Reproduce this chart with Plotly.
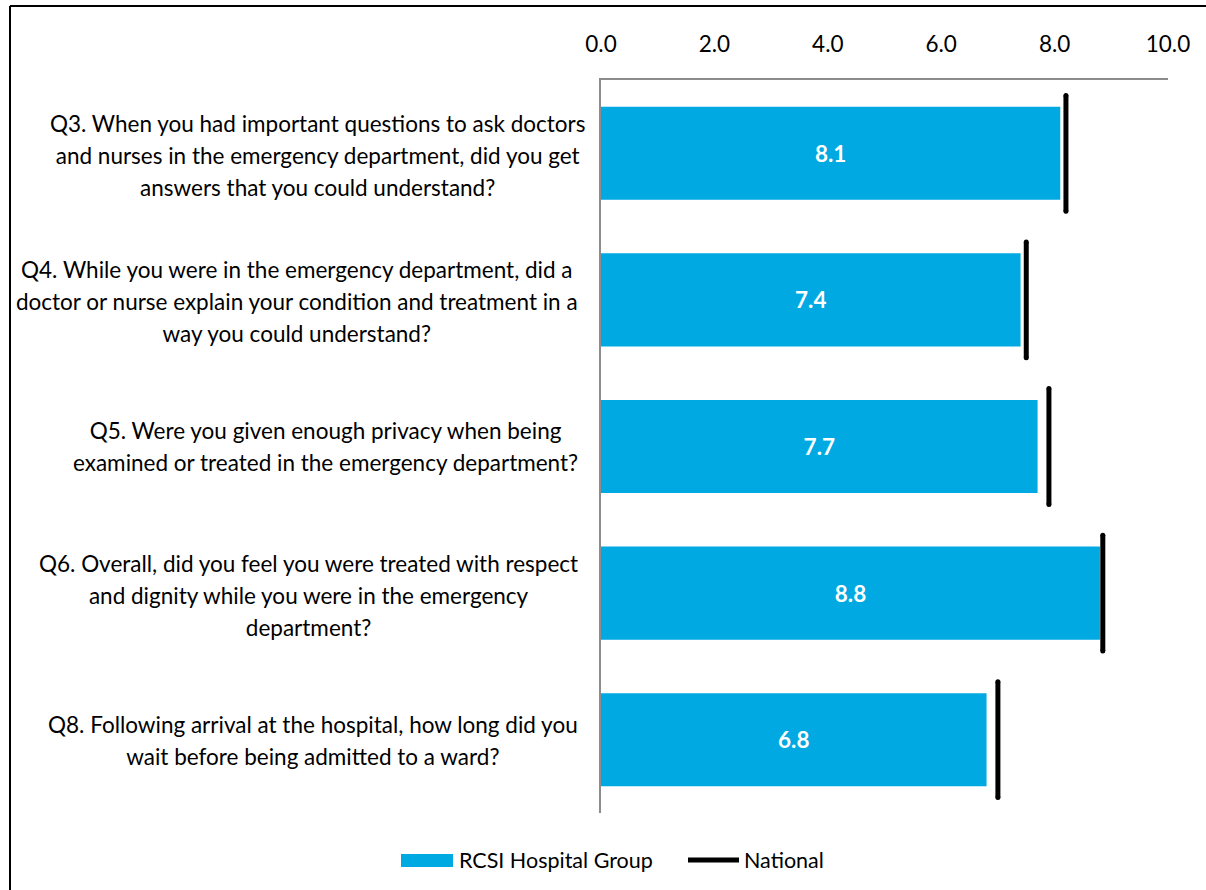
import plotly.graph_objects as go

# Survey questions (top to bottom)
questions = [
    ["Q3. When you had important questions to ask doctors",
     "and nurses in the emergency department, did you get",
     "answers that you could understand?"],
    ["Q4. While you were in the emergency department, did a",
     "doctor or nurse explain your condition and treatment in a",
     "way you could understand?"],
    ["Q5. Were you given enough privacy when being",
     "examined or treated in the emergency department?"],
    ["Q6. Overall, did you feel you were treated with respect",
     "and dignity while you were in the emergency",
     "department?"],
    ["Q8. Following arrival at the hospital, how long did you",
     "wait before being admitted to a ward?"],
]
group_scores = [8.1, 7.4, 7.7, 8.8, 6.8]        # RCSI Hospital Group
national_scores = [8.2, 7.5, 7.9, 8.85, 7.0]    # National
x_ticks = [0, 2, 4, 6, 8, 10]
x_tick_labels = ["0.0", "2.0", "4.0", "6.0", "8.0", "10.0"]

W, H = 1206, 890
L, R, T, B = 601, 38, 80, 77
PW, PH = W - L - R, H - T - B

BLUE = "#00A9E2"
FONT = "Lato"
LABEL_SIZE = 22.5      # glyph size of the question text
LABEL_LEADING = 24.6   # sets line pitch (1.3 em) of the question text
label_gap = [-14, -21, -21, -21, -21]   # px between label block and axis
label_lift = [-2, -2, 0, -2, -1]


def px_x(p):
    return (p - L) / PW


def px_y(p):
    return (H - B - p) / PH


pos = list(range(len(questions)))

fig = go.Figure()

fig.add_trace(go.Bar(
    x=group_scores, y=pos, orientation="h", width=0.635,
    marker=dict(color=BLUE, line=dict(width=0)),
    texttemplate="%{x:.1f}", textposition="inside", insidetextanchor="middle",
    textfont=dict(family=FONT, size=22.5, color="white", weight="bold"),
    constraintext="none", name="RCSI Hospital Group", showlegend=False,
    hoverinfo="skip",
))

# National benchmark: a vertical stroke across each bar slot
half = 0.395
seg_x, seg_y = [], []
for v, p in zip(national_scores, pos):
    seg_x += [v, v, None]
    seg_y += [p - half, p + half, None]
fig.add_trace(go.Scatter(
    x=seg_x, y=seg_y, mode="lines+markers",
    line=dict(color="black", width=5),
    marker=dict(color="black", size=5, symbol="circle"),
    name="National", showlegend=False, hoverinfo="skip",
))

# Category labels, centred lines, right-aligned block
for q, p, gx, gy in zip(questions, pos, label_gap, label_lift):
    text = "<br>".join(
        f'<span style="font-size:{LABEL_SIZE}px">{line}</span>' for line in q
    )
    fig.add_annotation(
        x=0, xref="paper", y=p, yref="y", xanchor="right", yanchor="middle",
        xshift=gx, yshift=gy, align="center", showarrow=False, text=text,
        font=dict(family=FONT, size=LABEL_LEADING, color="black"),
    )

# Legend
fig.add_shape(type="rect", xref="paper", yref="paper",
              x0=px_x(401), x1=px_x(453), y0=px_y(867), y1=px_y(854),
              fillcolor=BLUE, line=dict(width=0))
fig.add_annotation(x=px_x(457), y=px_y(860), xref="paper", yref="paper",
                   xanchor="left", yanchor="middle", showarrow=False,
                   text="RCSI Hospital Group",
                   font=dict(family=FONT, size=21.5, color="black"))
fig.add_shape(type="line", xref="paper", yref="paper",
              x0=px_x(688), x1=px_x(739), y0=px_y(860), y1=px_y(860),
              line=dict(color="black", width=5))
fig.add_annotation(x=px_x(742), y=px_y(860), xref="paper", yref="paper",
                   xanchor="left", yanchor="middle", showarrow=False,
                   text="National",
                   font=dict(family=FONT, size=21.5, color="black"))

# Outer frame (left and top edges)
fig.add_shape(type="line", xref="paper", yref="paper",
              x0=px_x(10), x1=px_x(10), y0=px_y(6), y1=px_y(H + 5),
              line=dict(color="black", width=2))
fig.add_shape(type="line", xref="paper", yref="paper",
              x0=px_x(10), x1=px_x(W + 5), y0=px_y(6), y1=px_y(6),
              line=dict(color="black", width=2))

fig.update_xaxes(
    range=[0, 10], side="top", tickvals=x_ticks, ticktext=x_tick_labels,
    showgrid=False, zeroline=False, showline=True, linecolor="#8C8C8C",
    linewidth=1.5, ticks="", ticklabelstandoff=17,
    tickfont=dict(family=FONT, size=22.5, color="black"),
)
fig.update_yaxes(
    range=[len(questions) - 0.5, -0.5], showticklabels=False, showgrid=False,
    zeroline=False, showline=True, linecolor="#8C8C8C", linewidth=1.5, ticks="",
)
fig.update_layout(
    width=W, height=H, margin=dict(l=L, r=R, t=T, b=B, autoexpand=False),
    paper_bgcolor="white", plot_bgcolor="white", showlegend=False,
    font=dict(family=FONT),
)

fig.write_html("out.html")
